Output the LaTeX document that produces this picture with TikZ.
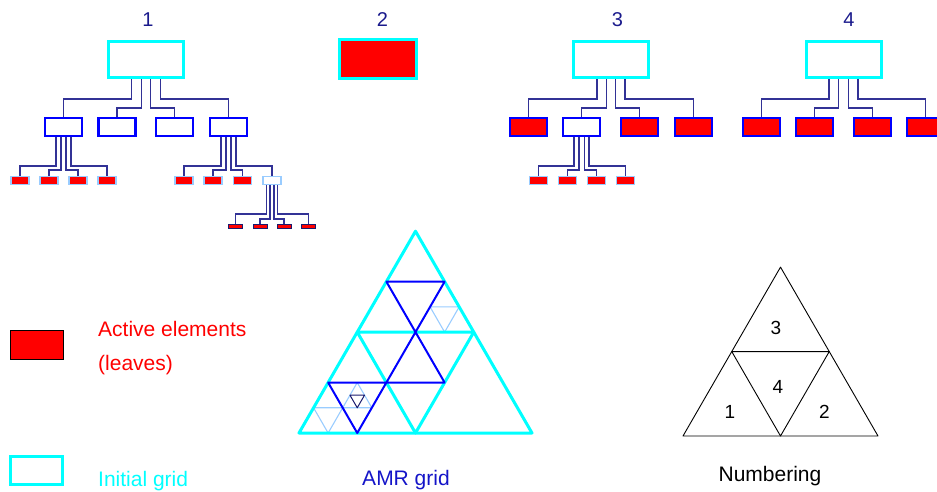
\documentclass[tikz,border=0pt]{standalone}
\usepackage{fontspec}
\setmainfont{Liberation Sans}
\usetikzlibrary{calc,backgrounds}

\definecolor{gridcyan}{RGB}{0,255,255}
\definecolor{amrblue}{RGB}{0,0,255}
\definecolor{paleblue}{RGB}{153,204,255}
\definecolor{labelnavy}{RGB}{26,26,140}
\definecolor{linknavy}{RGB}{50,50,150}
\definecolor{deepnavy}{RGB}{26,26,110}
\definecolor{amrtext}{RGB}{20,20,200}
\definecolor{leafred}{RGB}{255,0,0}

\tikzset{
  box/.style={rectangle, inner sep=0pt, outer sep=0pt},
  rootbox/.style={box, draw=gridcyan, line width=3pt, fill=white,
    minimum width=75pt, minimum height=36pt},
  kidbox/.style={box, draw=amrblue, line width=2.2pt, fill=white,
    minimum width=37pt, minimum height=18pt},
  kidleaf/.style={kidbox, fill=leafred, line width=2.5pt},
  leafbox/.style={box, draw=paleblue, line width=1.2pt, fill=leafred,
    minimum width=18pt, minimum height=8pt},
  subbox/.style={leafbox, fill=white},
  tinyleaf/.style={box, draw=deepnavy, line width=0.9pt, fill=leafred,
    minimum width=14pt, minimum height=4pt},
  treeno/.style={text=labelnavy, inner sep=0pt, font=\fontsize{20}{24}\selectfont},
  link/.style={draw=linknavy, line width=1.3pt},
  legendtext/.style={inner sep=0pt, font=\fontsize{21}{25}\selectfont},
  digit/.style={inner sep=0pt, font=\fontsize{19}{23}\selectfont},
  cyanedge/.style={draw=gridcyan, line width=3pt, line join=round, line cap=round},
  blueedge/.style={draw=amrblue, line width=2pt, line join=round, line cap=round},
  paleedge/.style={draw=paleblue, line width=1.1pt, line join=round},
  navyedge/.style={draw=deepnavy, line width=1pt, line join=round},
  blackedge/.style={draw=black, line width=0.9pt, line join=round},
}

% parent, x offset at the parent's bottom, drop to the bus, child
\newcommand\treelink[4]{\draw[link] ([xshift=#2pt]#1.south) -- ++(0,#3) -| (#4.north);}

\begin{document}
\begin{tikzpicture}[x=1pt,y=-1pt]
\clip (0,0) rectangle (937,491);

% ---------------- tree 1 ----------------
\node[treeno] (no1) at (148,20) {1};
\node[rootbox] (r1) at (146,59.5) {};
\node[kidbox] (c11) at (63.5,127) {};
\node[kidbox] (c12) at (117,127) {};
\node[kidbox] (c13) at (174.5,127) {};
\node[kidbox] (c14) at (228.5,127) {};
\node[leafbox] (l111) at (20,180.5) {};
\node[leafbox] (l112) at (49,180.5) {};
\node[leafbox] (l113) at (78,180.5) {};
\node[leafbox] (l114) at (107,180.5) {};
\node[leafbox] (l141) at (184,180.5) {};
\node[leafbox] (l142) at (213,180.5) {};
\node[leafbox] (l143) at (242.5,180.5) {};
\node[subbox] (w144) at (272,180.5) {};
\node[tinyleaf] (t1) at (235.5,226.5) {};
\node[tinyleaf] (t2) at (260,226.5) {};
\node[tinyleaf] (t3) at (284,226.5) {};
\node[tinyleaf] (t4) at (308.5,226.5) {};

% ---------------- element 2 ----------------
\node[treeno] (no2) at (382.5,20) {2};
\node[rootbox, fill=leafred, minimum width=77pt, minimum height=39pt] (g2) at (378,59) {};

% ---------------- tree 3 ----------------
\node[treeno] (no3) at (617.5,20) {3};
\node[rootbox] (r3) at (611,59.5) {};
\node[kidleaf] (c31) at (528.5,127) {};
\node[kidbox] (c32) at (581.5,127) {};
\node[kidleaf] (c33) at (639.5,127) {};
\node[kidleaf] (c34) at (693.5,127) {};
\node[leafbox] (l321) at (538.5,180.5) {};
\node[leafbox] (l322) at (567.5,180.5) {};
\node[leafbox] (l323) at (596.5,180.5) {};
\node[leafbox] (l324) at (625.5,180.5) {};

% ---------------- tree 4 ----------------
\node[treeno] (no4) at (849,20) {4};
\node[rootbox] (r4) at (843.5,59.5) {};
\node[kidleaf] (c41) at (761.5,127) {};
\node[kidleaf] (c42) at (814.5,127) {};
\node[kidleaf] (c43) at (872.5,127) {};
\node[kidleaf] (c44) at (925.5,127) {};

% ---------------- tree connectors ----------------
\begin{scope}[on background layer]
  \treelink{r1}{-14.5}{21.5}{c11}
  \treelink{r1}{-4.8}{30.5}{c12}
  \treelink{r1}{4.8}{30.5}{c13}
  \treelink{r1}{14.5}{21.5}{c14}
  \treelink{c11}{-7.5}{30}{l111}
  \treelink{c11}{-2.5}{34}{l112}
  \treelink{c11}{2.5}{34}{l113}
  \treelink{c11}{7.5}{30}{l114}
  \treelink{c14}{-7.5}{30}{l141}
  \treelink{c14}{-2.5}{34}{l142}
  \treelink{c14}{2.5}{34}{l143}
  \treelink{c14}{7.5}{30}{w144}
  \treelink{w144}{-5.5}{29.5}{t1}
  \treelink{w144}{-2}{34.5}{t2}
  \treelink{w144}{2}{34.5}{t3}
  \treelink{w144}{5.5}{29.5}{t4}

  \treelink{r3}{-14}{21.5}{c31}
  \treelink{r3}{-4.8}{30.5}{c32}
  \treelink{r3}{4.8}{30.5}{c33}
  \treelink{r3}{14}{21.5}{c34}
  \treelink{c32}{-7.5}{30}{l321}
  \treelink{c32}{-2.5}{34}{l322}
  \treelink{c32}{3}{34}{l323}
  \treelink{c32}{7.5}{30}{l324}

  \treelink{r4}{-14.5}{21.5}{c41}
  \treelink{r4}{-4.8}{30.5}{c42}
  \treelink{r4}{4.8}{30.5}{c43}
  \treelink{r4}{14.5}{21.5}{c44}
\end{scope}

% ---------------- AMR grid ----------------
\coordinate (A) at (299,433);
\coordinate (B) at (532,433);
\coordinate (C) at (415.5,231.2);
\coordinate (Mab) at ($(A)!.5!(B)$);
\coordinate (Mbc) at ($(B)!.5!(C)$);
\coordinate (Mca) at ($(C)!.5!(A)$);
% refinement of the top element
\coordinate (P1) at ($(Mca)!.5!(Mbc)$);
\coordinate (P2) at ($(Mbc)!.5!(C)$);
\coordinate (P3) at ($(C)!.5!(Mca)$);
% refinement of the middle element
\coordinate (Q4) at ($(Mbc)!.5!(Mab)$);
\coordinate (Q5) at ($(Mab)!.5!(Mca)$);
% refinement of the lower left element
\coordinate (S1) at ($(A)!.5!(Mab)$);
\coordinate (S3) at ($(Mca)!.5!(A)$);
% third level
\coordinate (U1) at ($(P2)!.5!(P1)$);
\coordinate (U2) at ($(P1)!.5!(Mbc)$);
\coordinate (U3) at ($(Mbc)!.5!(P2)$);
\coordinate (V1) at ($(A)!.5!(S1)$);
\coordinate (V2) at ($(S1)!.5!(S3)$);
\coordinate (V3) at ($(S3)!.5!(A)$);
\coordinate (R1) at ($(Q5)!.5!(S3)$);
\coordinate (R2) at ($(S3)!.5!(S1)$);
\coordinate (R3) at ($(S1)!.5!(Q5)$);
% fourth level
\coordinate (W1) at ($(R1)!.5!(R2)$);
\coordinate (W2) at ($(R2)!.5!(R3)$);
\coordinate (W3) at ($(R3)!.5!(R1)$);

\draw[paleedge] (U1) -- (U2) -- (U3) -- cycle;
\draw[paleedge] (V1) -- (V2) -- (V3) -- cycle;
\draw[paleedge] (R1) -- (R2) -- (R3) -- cycle;
\draw[cyanedge] (A) -- (B) -- (C) -- cycle;
\draw[cyanedge] (Mab) -- (Mbc) -- (Mca) -- cycle;
\draw[blueedge] (P1) -- (P2) -- (P3) -- cycle;
\draw[blueedge] (P1) -- (Q4) -- (Q5) -- cycle;
\draw[blueedge] (S1) -- (Q5) -- (S3) -- cycle;
\draw[navyedge] (W1) -- (W2) -- (W3) -- cycle;

% ---------------- numbering ----------------
\coordinate (NA) at (683,436);
\coordinate (NB) at (878,436);
\coordinate (NC) at (780.5,267.1);
\coordinate (NAB) at ($(NA)!.5!(NB)$);
\coordinate (NBC) at ($(NB)!.5!(NC)$);
\coordinate (NCA) at ($(NC)!.5!(NA)$);
\draw[blackedge] (NA) -- (NB) -- (NC) -- cycle;
\draw[blackedge] (NAB) -- (NBC) -- (NCA) -- cycle;
\node[digit] (d3) at (776,328) {3};
\node[digit] (d4) at (778,387) {4};
\node[digit] (d1) at (730,412) {1};
\node[digit] (d2) at (824.5,412) {2};

% ---------------- legend and captions ----------------
\node[box, draw=black, line width=0.8pt, fill=leafred, minimum width=53pt, minimum height=29pt] (keyleaf) at (37,345) {};
\node[box, draw=gridcyan, line width=3pt, fill=white, minimum width=52pt, minimum height=28pt] (keyinit) at (36.8,470.7) {};
\node[legendtext, text=leafred, anchor=base west] (act) at (98,336) {Active elements};
\node[legendtext, text=leafred, anchor=base west] (lvs) at (98,370) {(leaves)};
\node[legendtext, text=gridcyan, anchor=base west] (ini) at (98,486) {Initial grid};
\node[legendtext, text=amrtext, anchor=base] (amr) at (406,485) {AMR grid};
\node[legendtext, text=black, anchor=base] (num) at (770,481) {Numbering};
\end{tikzpicture}
\end{document}
